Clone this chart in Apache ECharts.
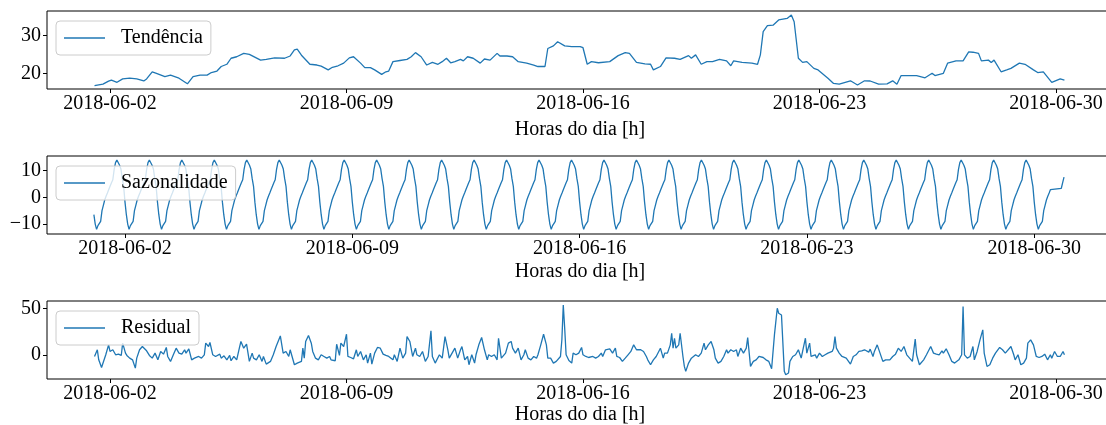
<!DOCTYPE html>
<html><head><meta charset="utf-8">
<script src="https://cdn.jsdelivr.net/npm/echarts@6/dist/echarts.min.js"></script>
<style>html,body{margin:0;padding:0;background:#fff}#c{width:1106px;height:425px}</style>
</head><body><div id="c"></div><script>
// ---- data (x values are hours since 2018-06-01 00:00) ----
const tickHours = [24, 192, 360, 528, 696];
const tickLabels = ['2018-06-02', '2018-06-09', '2018-06-16', '2018-06-23', '2018-06-30'];

const trendData = [[13,16.7],[19,17.1],[23,17.9],[25,18.2],[29,17.6],[33,18.5],[38,18.7],[43,18.5],[48,17.95],[50,18.5],[54,20.4],[57,20.0],[63,19.1],[67,19.5],[73,18.7],[79,17.2],[83,19.1],[88,19.5],[93,19.5],[96,20.2],[100,20.6],[103,21.8],[107,22.4],[110,24.0],[114,24.4],[119,25.3],[123,25.05],[131,23.5],[135,23.7],[141,24.1],[148,24.0],[152,24.6],[155,26.2],[157,26.4],[160,24.8],[166,22.4],[171,22.2],[174,21.9],[179,20.9],[182,21.6],[186,22.0],[190,22.7],[194,24.1],[197,24.4],[202,22.7],[205,21.5],[209,21.5],[212,20.9],[217,19.7],[220,20.4],[222,20.6],[225,23.1],[230,23.4],[235,23.7],[238,24.4],[241,25.5],[245,24.4],[249,22.2],[253,22.9],[257,22.4],[260,23.1],[263,24.0],[266,22.8],[269,23.1],[273,23.7],[275,23.3],[278,24.4],[282,24.0],[287,22.7],[290,23.8],[294,23.5],[299,25.3],[301,24.6],[306,24.6],[310,24.4],[314,23.1],[320,22.7],[325,22.2],[328,21.8],[333,21.8],[335,26.6],[339,27.3],[342,28.4],[347,27.3],[352,27.1],[358,27.1],[360,26.8],[363,22.4],[366,23.1],[371,22.8],[379,23.1],[385,24.7],[390,25.5],[393,25.3],[398,22.9],[404,22.5],[408,22.4],[410,20.9],[415,21.8],[419,24.1],[425,24.0],[429,23.7],[435,24.7],[437,24.0],[440,24.9],[444,22.4],[448,23.1],[452,23.1],[457,23.7],[462,23.3],[465,22.0],[467,23.3],[473,22.9],[480,22.7],[484,22.4],[486,24.9],[488,31.1],[491,32.7],[495,32.8],[499,34.2],[505,34.6],[508,35.5],[510,33.7],[513,24.0],[516,22.9],[519,23.1],[524,21.3],[527,20.9],[534,18.7],[538,17.3],[542,17.1],[550,18.0],[555,16.9],[560,18.0],[564,17.95],[570,17.1],[576,17.2],[580,18.0],[583,17.1],[586,19.4],[597,19.4],[603,18.8],[608,20.0],[610,19.4],[616,20.0],[619,22.7],[625,23.3],[630,23.3],[634,25.7],[637,25.6],[641,25.3],[643,23.3],[648,23.5],[650,22.9],[652,23.5],[657,20.4],[661,20.9],[664,21.3],[670,22.7],[674,22.4],[680,20.9],[683,20.2],[687,20.4],[693,17.6],[699,18.5],[702,18.2]];

// seasonal component: daily profile by hour of day (0..23), repeated each day
const seasonalDailyProfile = [-1.8,-6.5,-10.0,-12.0,-10.6,-11.0,-9.0,-5.0,-3.0,-1.0,0.4,1.6,2.9,3.5,5.5,6.6,10.5,13.0,14.0,13.6,12.0,10.6,7.0,4.1];
const seasonalFirstHour = 1;
const seasonalLastRegularHour = 708;
const seasonalTail = [[716,3.4],[717,5.5],[718,7.6]];

const residualData = [[13,-1.8],[15,5.4],[16,-5.4],[18,-13.6],[19,-12.5],[21,0],[23,10.7],[24,3.6],[26,5.4],[28,0],[30,0.7],[32,-0.7],[33,12.5],[35,1.8],[36,-0.7],[38,-3.6],[40,-5.4],[42,-14.3],[43,-3.6],[45,5.4],[47,8.9],[50,4.3],[52,-0.7],[54,-3.6],[56,1.8],[58,-5.4],[60,3.6],[62,0.7],[64,7.9],[65,-1.8],[67,-7.1],[69,0],[71,7.1],[73,1.8],[75,0.7],[77,5.4],[78,1.8],[80,6.4],[82,-5.4],[84,-3.6],[87,-1.8],[89,-3.6],[91,0],[92,12.5],[94,8.9],[95,13.2],[97,0],[99,-1.8],[102,0.7],[103,-3.6],[105,-1.1],[107,-5.4],[109,-0.7],[110,-6.4],[112,-1.8],[114,-5.4],[116,7.9],[117,14.3],[119,7.1],[121,11.4],[123,-7.1],[125,1.8],[126,-3.6],[128,-5.4],[130,0],[132,-7.1],[133,-1.8],[135,-10],[138,-7.1],[140,0],[142,8.9],[145,20.3],[147,1.8],[149,3.6],[151,-1.8],[152,5.4],[155,-10.7],[157,-8.9],[158,-10.7],[160,-7.1],[161,7.1],[162,-3.6],[163,14.3],[165,20.7],[167,12.5],[168,3.6],[170,-3.6],[172,-5.4],[174,0],[176,-1.8],[178,-3.6],[180,-1.8],[181,-5.4],[184,-6.4],[185,11.4],[187,-0.7],[188,12.5],[190,8.9],[192,22.1],[193,-1.8],[195,-2.9],[197,-4.3],[199,5.4],[200,-1.8],[202,3.6],[204,-5.4],[206,0],[207,-8.9],[209,1.8],[210,-10],[212,1.8],[214,7.9],[216,7.1],[218,0.7],[220,-0.7],[222,-1.8],[225,-5.4],[226,0],[228,-7.1],[230,7.1],[232,-3.6],[234,1.8],[235,19.6],[237,14.3],[239,-1.8],[241,7.1],[242,0],[244,-1.8],[246,3.6],[248,-7.1],[250,-1.8],[252,25.7],[253,-1.8],[255,-8.9],[256,-7.1],[258,0],[260,-3.6],[262,19.6],[264,5.4],[265,-3.6],[267,1.8],[269,7.1],[271,-3.6],[273,5.4],[274,8.9],[276,-5.4],[278,-1.8],[279,-10.7],[281,0],[283,-8.9],[284,0],[286,10.7],[288,18.6],[290,5.4],[292,-5.4],[293,0],[295,-1.8],[297,0],[299,-5.4],[300,17.8],[302,-3.6],[303,-5.4],[305,1.8],[307,12.5],[309,14.3],[310,7.1],[312,1.8],[314,7.1],[316,-5.4],[318,0],[319,5.4],[321,-3.6],[323,-5.4],[325,-1.8],[327,-3.6],[328,0],[330,10.7],[332,22.1],[334,10.7],[335,-3.6],[337,-3.6],[339,-8.9],[341,-7.1],[342,-5.4],[344,-1.8],[345,16.1],[346,53.5],[347,28.5],[348,0],[350,-6.2],[352,-8.9],[353,1.8],[355,0],[357,1.8],[358,1.8],[359,7.9],[360,0],[362,-1.8],[364,-2.9],[367,-1.8],[369,-3.6],[371,-1.8],[373,1.8],[374,-1.8],[376,5.4],[377,3.6],[379,6.4],[381,1.8],[383,7.1],[384,-1.8],[386,-2.9],[388,-7.1],[390,-3.6],[392,0],[394,3.6],[396,10.7],[398,5.4],[399,7.1],[401,5.4],[403,3.6],[405,-1.8],[406,-5.4],[408,-10.7],[410,-5.4],[412,-1.8],[413,0],[415,7.1],[417,-3.6],[418,1.8],[420,1.8],[422,10.7],[423,23.2],[424,7.1],[425,17.8],[426,7.1],[428,10.7],[429,23.2],[431,-1.8],[432,-12.5],[433,-17.8],[435,-8.9],[437,-3.6],[440,0],[442,-1.8],[444,1.8],[446,12.5],[447,5.4],[449,10.7],[451,14.3],[453,5.4],[454,-3.6],[456,-8.9],[458,-7.1],[460,-1.8],[462,5.4],[463,1.8],[465,5.4],[467,3.6],[469,5.4],[470,-1.8],[472,7.1],[474,1.8],[476,7.1],[477,18.6],[479,-12.5],[481,-7.1],[483,-5.4],[485,-1.8],[488,-2.9],[490,-5.4],[492,-7.1],[494,-15],[496,21.4],[498,50],[499,44.6],[501,42.8],[503,-17.8],[504,-21.4],[506,-19.6],[507,-7.1],[509,-1.8],[511,0],[513,5.4],[515,-3.6],[516,3.6],[518,17.8],[519,1.8],[521,12.5],[522,-1.8],[523,-3.6],[525,0],[526,-3.6],[528,1.8],[530,-1.8],[532,0],[534,1.8],[537,3.6],[538,7.1],[539,19.6],[540,7.1],[542,1.8],[544,-1.8],[545,0],[547,-3.6],[550,-10],[552,-1.8],[554,0],[556,3.6],[558,4.3],[560,5.4],[563,2.9],[564,6.1],[566,-1.8],[567,3.6],[569,10.7],[571,1.8],[573,-7.1],[575,-5.4],[578,-5.4],[580,-1.8],[582,0.7],[584,7.1],[586,3.6],[588,8.9],[590,0],[592,-3.6],[594,-7.1],[596,16.8],[597,0],[599,-10.7],[602,-5.4],[604,0],[605,0.7],[607,8.9],[609,1.8],[611,0.7],[613,0],[615,4.3],[616,1.8],[618,6.4],[620,0],[622,-7.1],[624,-8.9],[627,-5.4],[629,0],[630,51.8],[631,0],[633,-3.6],[635,-1.8],[637,8.9],[638,-5.4],[640,3.6],[642,16.1],[644,26.8],[645,1.8],[647,-12.5],[649,-10.7],[651,-3.6],[653,1.8],[654,3.6],[656,7.9],[658,5.4],[660,1.8],[661,0],[664,8.9],[666,0],[667,-5.4],[669,0],[671,-10.7],[673,-8.9],[675,-3.6],[676,12.5],[678,16.1],[680,10.7],[682,-1.8],[684,-2.9],[686,-1.8],[688,0.7],[690,-5.4],[692,0],[693,-3.6],[695,3.6],[697,-1.8],[699,-1.8],[701,3.6],[702,0]];

const seriesNames = ['Tendência', 'Sazonalidade', 'Residual'];
const axisTitle = 'Horas do dia [h]';
const yTicks = [[20, 30], [-10, 0, 10], [0, 50]];

// ---- build ----
const seasonalData = [];
for (let h = seasonalFirstHour; h <= seasonalLastRegularHour; h++) {
  seasonalData.push([h, seasonalDailyProfile[h % 24]]);
}
seasonalTail.forEach(p => seasonalData.push(p));

const FONT = '"Liberation Serif", "Times New Roman", serif';
const COLOR = '#1f77b4';
const tops = [11, 156, 301];
const H = 78;
const xRanges = [[-20.75, 736.5], [-33.65, 754.2], [-20.75, 736.5]];
const yRanges = [[15.82, 36.57], [-13.73, 15.49], [-26, 57.8]];
const legendTops = [21, 166, 311];
const nameGaps = [31, 28, 24];

const fmtY = v => (v < 0 ? '\u2212' + (-v) : String(v));

const grids = tops.map(t => ({left: 47, top: t, width: 1066, height: H, show: true,
  borderColor: '#000', borderWidth: 1, backgroundColor: 'transparent', containLabel: false,
  outerBoundsMode: 'none'}));

const xAxes = xRanges.map((r, i) => ({
  type: 'value', gridIndex: i, min: r[0], max: r[1], position: 'bottom',
  axisLine: {show: false, onZero: false},
  axisTick: {show: true, inside: false, length: 4, lineStyle: {color: '#000', width: 1}, customValues: tickHours},
  axisLabel: {show: true, customValues: tickHours, margin: 5, fontSize: 20, fontFamily: FONT, color: '#000',
    formatter: v => tickLabels[tickHours.indexOf(v)]},
  splitLine: {show: false},
  name: axisTitle, nameLocation: 'middle', nameGap: nameGaps[i],
  nameTextStyle: {fontSize: 20, fontFamily: FONT, color: '#000'}
}));

const yAxes = yRanges.map((r, i) => ({
  type: 'value', gridIndex: i, min: r[0], max: r[1], position: 'left',
  axisLine: {show: false, onZero: false},
  axisTick: {show: true, inside: false, length: 4, lineStyle: {color: '#000', width: 1}, customValues: yTicks[i]},
  axisLabel: {show: true, customValues: yTicks[i], margin: 6, fontSize: 20, fontFamily: FONT, color: '#000', formatter: fmtY},
  splitLine: {show: false}
}));

const allData = [trendData, seasonalData, residualData];
const series = allData.map((d, i) => ({
  type: 'line', name: seriesNames[i], xAxisIndex: i, yAxisIndex: i, data: d,
  symbol: 'none', showSymbol: false, lineStyle: {color: COLOR, width: 1.3}, itemStyle: {color: COLOR},
  animation: false, z: 2
}));

const legends = seriesNames.map((n, i) => ({
  data: [{name: n, icon: 'rect'}], left: 56, top: legendTops[i], orient: 'horizontal',
  padding: [6, 8, 6, 8], itemWidth: 41, itemHeight: 1.4,
  backgroundColor: 'rgba(255,255,255,0.8)', borderColor: '#cccccc', borderWidth: 1, borderRadius: 4,
  selectedMode: false, z: 10,
  itemStyle: {color: COLOR, borderWidth: 0},
  textStyle: {fontSize: 20, fontFamily: FONT, color: '#000', padding: [0, 0, 0, 11], lineHeight: 22}
}));

const chart = echarts.init(document.getElementById('c'), null, {renderer: 'canvas'});
chart.setOption({
  animation: false,
  backgroundColor: '#fff',
  grid: grids, xAxis: xAxes, yAxis: yAxes, legend: legends, series: series
});
</script></body></html>
